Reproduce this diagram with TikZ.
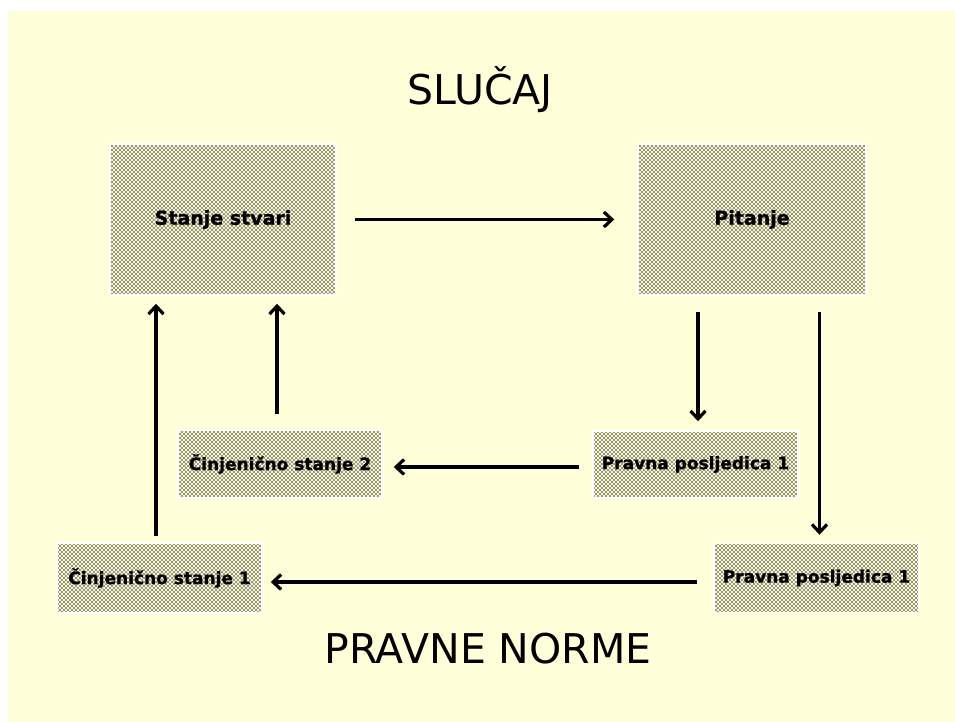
\documentclass[tikz,border=0pt]{standalone}
\usepackage{fontspec}
\setmainfont{DejaVu Sans}
\newfontfamily\boxfont[FakeBold=1.2]{DejaVu Sans Bold}
\usetikzlibrary{arrows.meta,patterns}
\definecolor{bg}{RGB}{255,255,217}
\definecolor{boxfill}{RGB}{245,245,208}
\pgfdeclarepatternformonly{boxdots}{\pgfqpoint{-1.5pt}{-1.5pt}}{\pgfqpoint{2.5pt}{2.5pt}}{\pgfqpoint{4pt}{4pt}}{%
 \pgfpathcircle{\pgfqpoint{0pt}{0pt}}{0.8pt}%
 \pgfpathcircle{\pgfqpoint{2pt}{2pt}}{0.8pt}%
 \pgfusepath{fill}}
\begin{document}
\begin{tikzpicture}[x=1pt,y=-1pt,
 dotbox/.style={draw=white, line width=1.5pt, preaction={fill=boxfill}, pattern=boxdots, pattern color=black!80, font=\boxfont\fontsize{17}{20}\selectfont, inner sep=0pt, text=black},
 bigbox/.style={dotbox, font=\boxfont\fontsize{19}{22}\selectfont},
 arr/.style={line width=3.2pt, -{Straight Barb[length=8pt,width=15pt]}},
 title/.style={font=\fontsize{41}{48}\selectfont, anchor=base}]
\fill[white] (0,0) rectangle (955,722);
\fill[bg] (8,11) rectangle (955,722);
\useasboundingbox (0,0) rectangle (955,722);

\node[title] (t1) at (480,105) {SLUČAJ};
\node[title] (t2) at (488,663) {PRAVNE NORME};

\node[bigbox, minimum width=226pt, minimum height=151pt] (st) at (223,219.5) {Stanje stvari};
\node[bigbox, minimum width=228pt, minimum height=151pt] (pit) at (752,219.5) {Pitanje};
\node[dotbox, minimum width=204pt, minimum height=68pt] (c2) at (280,464) {Činjenično stanje 2};
\node[dotbox, minimum width=205pt, minimum height=67pt] (pp1) at (695.5,464.5) {Pravna posljedica 1};
\node[dotbox, minimum width=205pt, minimum height=70pt] (c1) at (159.5,578) {Činjenično stanje 1};
\node[dotbox, minimum width=205pt, minimum height=69pt] (pp2) at (816.5,578) {Pravna posljedica 1};

\draw[arr, shorten <=18pt, shorten >=23pt] (st.east) -- (pit.west);
\draw[arr, shorten <=16pt, shorten >=9pt] ([xshift=2.5pt]pp1.north |- pit.south) -- ([xshift=2.5pt]pp1.north);
\draw[arr, shorten <=16pt, shorten >=8pt] ([xshift=3pt]pp2.north |- pit.south) -- ([xshift=3pt]pp2.north);
\draw[arr, shorten <=13pt, shorten >=11pt] ([yshift=-2.5pt]pp1.west) -- ([yshift=-2.5pt]pp1.west -| c2.east);
\draw[arr, shorten <=16pt, shorten >=8pt] ([yshift=-4pt]pp2.west) -- ([yshift=-4pt]pp2.west -| c1.east);
\draw[arr, shorten <=6pt, shorten >=8pt] ([xshift=-3.5pt]c1.north) -- ([xshift=-3.5pt]c1.north |- st.south);
\draw[arr, shorten <=15pt, shorten >=8pt] ([xshift=-3pt]c2.north) -- ([xshift=-3pt]c2.north |- st.south);
\end{tikzpicture}
\end{document}
